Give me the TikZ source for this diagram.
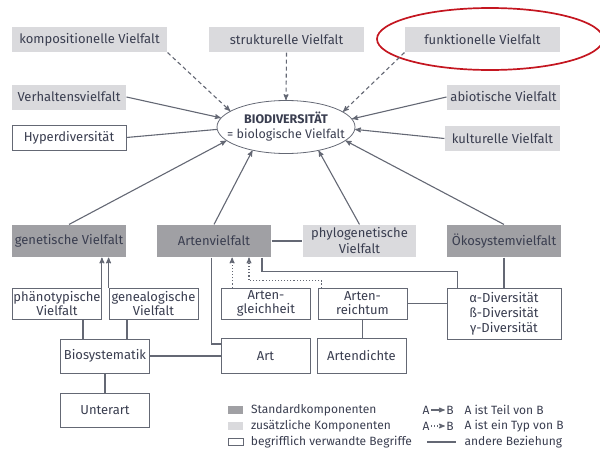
\documentclass[tikz,border=0pt]{standalone}
\usepackage{fontspec}
\setmainfont{Fira Sans}
\usetikzlibrary{arrows, shapes.geometric, positioning}
\definecolor{ink}{RGB}{58,62,80}
\definecolor{linie}{RGB}{100,104,116}
\definecolor{dunkel}{RGB}{160,160,164}
\definecolor{hell}{RGB}{218,218,221}
\definecolor{rot}{RGB}{196,22,32}

\begin{document}
\begin{tikzpicture}[x=1pt,y=-1pt,>=stealth',line width=1.1pt,draw=linie,
    every node/.style={text=ink,font=\fontsize{13}{14}\selectfont,inner sep=1pt,align=center},
    std/.style={fill=dunkel,minimum width=114,minimum height=32},
    zus/.style={fill=hell,minimum height=25},
    begr/.style={draw=linie,line width=0.8pt,fill=white,minimum width=89,minimum height=31},
    leg/.style={font=\fontsize{12}{13}\selectfont},
    typ/.style={->,dash pattern=on 4pt off 3pt},
    ist/.style={->,dotted}]
  \useasboundingbox (0,0) rectangle (600,450);

  % obere Reihe
  \node[zus,minimum width=155] (komp) at (89.5,39.5) {kompositionelle Vielfalt};
  \node[zus,minimum width=155] (struk) at (286.5,39.5) {strukturelle Vielfalt};
  \node[zus,minimum width=155] (funk) at (482.5,39.5) {funktionelle Vielfalt};
  \draw[rot,line width=1.7pt] (490,39) ellipse [x radius=113, y radius=31];

  \node[zus,minimum width=114] (verh) at (69,97) {Verhaltensvielfalt};
  \node[begr,minimum width=114,minimum height=25] (hyper) at (69,137.5) {Hyperdiversität};
  \node[zus,minimum width=113] (abio) at (503.5,97) {abiotische Vielfalt};
  \node[zus,minimum width=115] (kult) at (502.5,138.5) {kulturelle Vielfalt};
  \node[draw=linie,line width=0.8pt,ellipse,minimum width=138,minimum height=53,inner xsep=-20pt,inner ysep=0pt,
        font=\fontsize{12.5}{15}\selectfont] (bio) at (286,127)
      {\bfseries BIODIVERSITÄT\\= biologische Vielfalt};

  % Komponenten
  \node[std] (genet) at (69,241) {genetische Vielfalt};
  \node[std] (artenv) at (214,241) {Artenvielfalt};
  \node[zus,minimum width=113,minimum height=32,font=\fontsize{13}{16}\selectfont] (phylo) at (359.5,241) {phylogenetische\\Vielfalt};
  \node[std] (oeko) at (504,241) {Ökosystemvielfalt};

  \node[begr] (phaeno) at (57,303.5) {phänotypische\\Vielfalt};
  \node[begr] (geneal) at (153.5,303.5) {genealogische\\Vielfalt};
  \node[begr,minimum height=34] (biosys) at (105,356) {Biosystematik};
  \node[begr,minimum height=34] (unterart) at (105,410) {Unterart};
  \node[begr] (gleich) at (266,303.5) {Arten-\\gleichheit};
  \node[begr] (reich) at (362.5,303.5) {Arten-\\reichtum};
  \node[begr,minimum height=35] (art) at (265.5,356) {Art};
  \node[begr,minimum height=35] (dichte) at (361.5,356) {Artendichte};
  \node[begr,minimum width=114,minimum height=51,font=\fontsize{13}{15}\selectfont] (div) at (504,313.5)
      {α-Diversität\\ß-Diversität\\γ-Diversität};

  % zur Biodiversitaet
  \draw[typ] (komp.south east) -- (bio.164);
  \draw[typ] (struk.south) -- (bio.north);
  \draw[typ] (funk.south west) -- (bio.15);
  \draw[->] (verh.east) -- (bio.172);
  \draw (hyper.east) -- (bio.182);
  \draw[->] (genet.north) -- (bio.193);
  \draw[->] (artenv.north) -- (bio.215);
  \draw[->] (phylo.north) -- (bio.324);
  \draw[->] (oeko.north) -- (bio.347);
  \draw[->] (abio.west) -- (bio.7);
  \draw[->] (kult.west) -- (bio.358);

  % unten
  \draw[->] (phaeno.north east) -- (phaeno.north east |- genet.south);
  \draw[->] (geneal.north west) -- (geneal.north west |- genet.south);
  \draw ([xshift=-22]biosys.north) -- ([xshift=-22]biosys.north |- phaeno.south);
  \draw ([xshift=22]biosys.north) -- ([xshift=22]biosys.north |- geneal.south);
  \draw (biosys.south) -- (unterart.north);
  \draw (biosys.east) -- (art.west);
  \draw ([xshift=-2.5]artenv.south) |- ([yshift=12]art.west);
  \draw[ist] ([xshift=11]gleich.north west) -- ([xshift=11]gleich.north west |- artenv.south);
  \draw[ist] ([xshift=4]reich.north west) -- ++(0,-7) -| ([xshift=35]artenv.south);
  \draw ([xshift=48]artenv.south) -- ++(0,14) -| ([xshift=11]div.north west);
  \draw (artenv.east) -- (phylo.west);
  \draw (reich.east) -- (reich.east -| div.west);
  \draw (reich.south) -- (reich.south |- dichte.north);
  \draw (oeko.south) -- (div.north);

  % Legende
  \node[fill=dunkel,minimum width=15,minimum height=8,inner sep=0] (lstd) at (235.5,410) {};
  \node[fill=hell,minimum width=15,minimum height=8,inner sep=0] (lzus) at (235.5,426) {};
  \node[draw=linie,line width=0.8pt,minimum width=15,minimum height=7,inner sep=0] (lbegr) at (235.5,442) {};
  \node[leg,right=6pt of lstd] (tstd) {Standardkomponenten};
  \node[leg,right=6pt of lzus] (tzus) {zusätzliche Komponenten};
  \node[leg,right=6pt of lbegr] (tbegr) {begrifflich verwandte Begriffe};

  \node[leg] (a1) at (426,410) {A};
  \node[leg] (b1) at (450,410) {B};
  \draw[->] (a1) -- (b1);
  \node[leg] (a2) at (426,426) {A};
  \node[leg] (b2) at (450,426) {B};
  \draw[ist] (a2) -- (b2);
  \coordinate (l1) at (427,442);
  \coordinate (l2) at (456,442);
  \draw (l1) -- (l2);
  \node[leg,anchor=west] (tteil) at (463,410) {A ist Teil von B};
  \node[leg,anchor=west] (ttyp) at (463,426) {A ist ein Typ von B};
  \node[leg,anchor=west] (tand) at (463,442) {andere Beziehung};
\end{tikzpicture}
\end{document}
